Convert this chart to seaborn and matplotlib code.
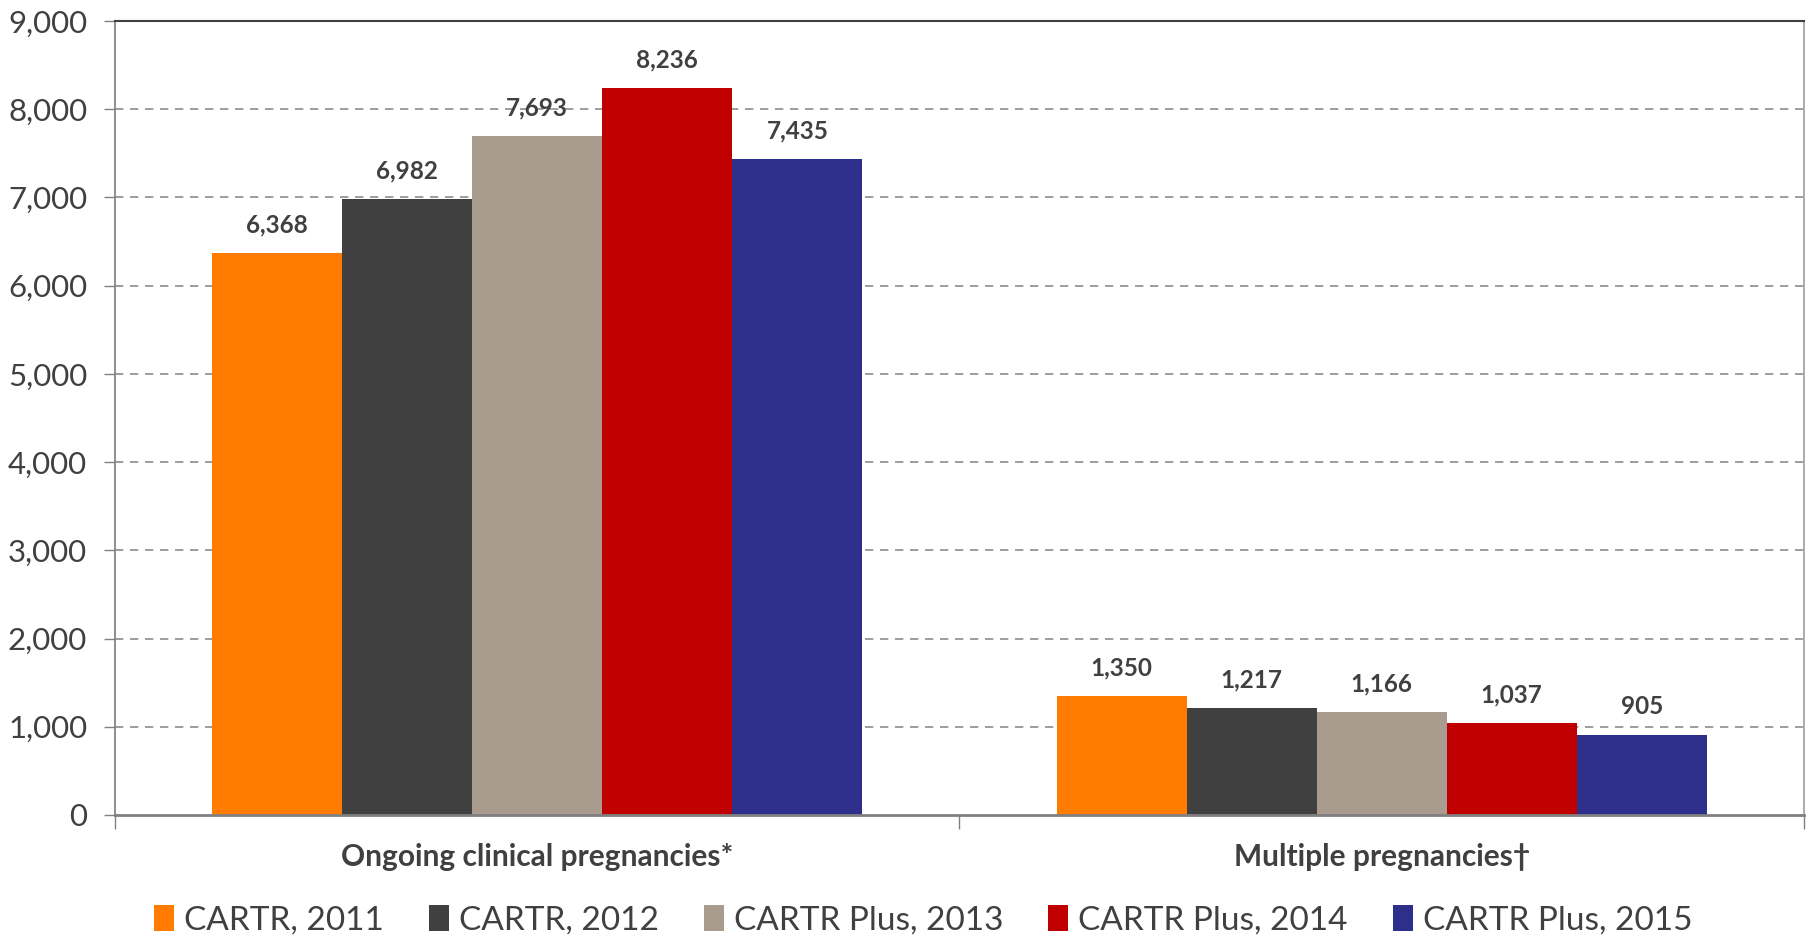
import matplotlib
matplotlib.use('Agg')
import matplotlib.pyplot as plt
import seaborn as sns
import pandas as pd
import numpy as np

# data
categories = ['Ongoing clinical pregnancies*', 'Multiple pregnancies\u2020']
series = ['CARTR, 2011', 'CARTR, 2012', 'CARTR Plus, 2013', 'CARTR Plus, 2014', 'CARTR Plus, 2015']
ongoing = [6368, 6982, 7693, 8236, 7435]
multiple = [1350, 1217, 1166, 1037, 905]
colors = ['#FF7C00', '#404040', '#A99C8F', '#C00000', '#2E2E8B']

sns.set_theme(style='white')
plt.rcParams['font.family'] = ['Lato', 'DejaVu Sans']

df = pd.DataFrame({
    'category': [categories[0]] * len(series) + [categories[1]] * len(series),
    'series': series + series,
    'value': ongoing + multiple,
})

fig = plt.figure(figsize=(18.1, 9.36), dpi=100)
ax = fig.add_axes([0.0635, 0.1293, 0.9332, 0.8483])
sns.barplot(data=df, x='category', y='value', hue='series', hue_order=series,
            palette=colors, saturation=1, width=0.77, linewidth=0, ax=ax)

for cont in ax.containers:
    ax.bar_label(cont, labels=[f'{v:,.0f}' for v in cont.datavalues], padding=12,
                 fontsize=17.5, fontweight='bold', color='#404040')

ax.set_ylim(0, 9000)
ax.set_xlim(-0.5, 1.5)
ax.set_yticks(np.arange(0, 9001, 1000))
ax.set_yticklabels([f'{v:,}' for v in range(0, 9001, 1000)], fontsize=22.5, color='#404040')
ax.tick_params(axis='y', which='major', direction='out', length=8, width=1, color='#808080', pad=12, left=True)
ax.set_xticks([0, 1])
ax.set_xticklabels(categories, fontsize=21.5, fontweight='bold', color='#404040')
ax.tick_params(axis='x', which='major', length=0, pad=20)
ax.set_xticks([-0.5, 0.5, 1.5], minor=True)
ax.tick_params(axis='x', which='minor', direction='out', length=10, width=1, color='#808080', bottom=True)
ax.set_xlabel('')
ax.set_ylabel('')

for y in range(1000, 9000, 1000):
    ax.axhline(y, color='#8C8C8C', linestyle=(0, (5, 4)), linewidth=1.2, zorder=0)

ax.spines['top'].set_color('#404040')
ax.spines['top'].set_linewidth(1.5)
ax.spines['right'].set_color('#A0A0A0')
ax.spines['left'].set_color('#808080')
ax.spines['bottom'].set_color('#808080')
ax.spines['bottom'].set_linewidth(2)

ax.legend(loc='center', bbox_to_anchor=(0.51, 16 / 936), bbox_transform=fig.transFigure,
          ncol=5, frameon=False, fontsize=24, handlelength=0.6, handleheight=0.85,
          handletextpad=0.3, columnspacing=1.35, labelcolor='#404040', borderaxespad=0)

fig.savefig('out.png', dpi=100)
